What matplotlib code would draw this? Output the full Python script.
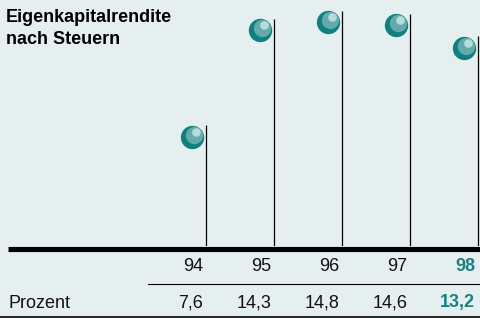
import matplotlib
matplotlib.use("Agg")
import matplotlib.pyplot as plt
import matplotlib.transforms as mtransforms
from matplotlib.lines import Line2D

years = ["94", "95", "96", "97", "98"]
values = [7.6, 14.3, 14.8, 14.6, 13.2]
value_labels = ["7,6", "14,3", "14,8", "14,6", "13,2"]

BG = "#e6eff0"
TEAL = "#1b8080"
W, H = 481, 318
DPI = 100

plt.rcParams["font.family"] = ["Liberation Sans", "DejaVu Sans"]

fig = plt.figure(figsize=(W / DPI, H / DPI), dpi=DPI, facecolor=BG)
base_px = 246
px_per_unit = 15.9
ax = fig.add_axes([0, (H - base_px) / H, 1, base_px / H])
ax.set_facecolor(BG)
ax.set_xlim(-206 / 68, (W - 206) / 68)
ax.set_ylim(0, base_px / px_per_unit)
ax.axis("off")

x = list(range(len(years)))
ax.vlines(x, 0, values, color="black", linewidth=0.9)

# thick baseline, just under the stems
fig.add_artist(Line2D([8 / W, 1], [1 - 248.7 / H] * 2, color="black", linewidth=3.7,
                      solid_capstyle="butt"))


def off(dx, dy):
    return mtransforms.offset_copy(ax.transData, fig=fig, x=dx, y=dy, units="dots")


# balls: dark base, lighter cap, highlight
ax.plot(x, values, "o", ms=16.8, color="#0f7f80", mec="none", transform=off(-14.5, -11.5), clip_on=False)
ax.plot(x, values, "o", ms=12.5, color="#62aaac", mec="none", transform=off(-12.5, -9.5), clip_on=False)
ax.plot(x, values, "o", ms=6.2, color="#b8dadb", mec="none", transform=off(-10.5, -6.5), clip_on=False)

fig.text(6 / W, 1 - 8.5 / H, "Eigenkapitalrendite\nnach Steuern", fontsize=13, fontweight="bold",
         va="top", ha="left", linespacing=1.42)

tr = mtransforms.blended_transform_factory(ax.transData, fig.transFigure)
for i, (yr, lab) in enumerate(zip(years, value_labels)):
    last = i == len(years) - 1
    kw = dict(color=TEAL, fontweight="bold") if last else dict(color="#111111")
    ax.text(i - 0.04, 1 - 266.5 / H, yr, transform=tr, ha="right", va="center", fontsize=13, **kw)
    ax.text(i - 0.04, 1 - 303 / H, lab, transform=tr, ha="right", va="center", fontsize=13, **kw)

fig.text(8 / W, 1 - 303 / H, "Prozent", ha="left", va="center", fontsize=13, color="#111111")
fig.add_artist(Line2D([148 / W, 1], [1 - 284 / H] * 2, color="black", linewidth=0.8))
fig.add_artist(Line2D([0, 1], [1 - 316.5 / H] * 2, color="black", linewidth=1.2))

fig.savefig("out.png", dpi=DPI, facecolor=BG)
